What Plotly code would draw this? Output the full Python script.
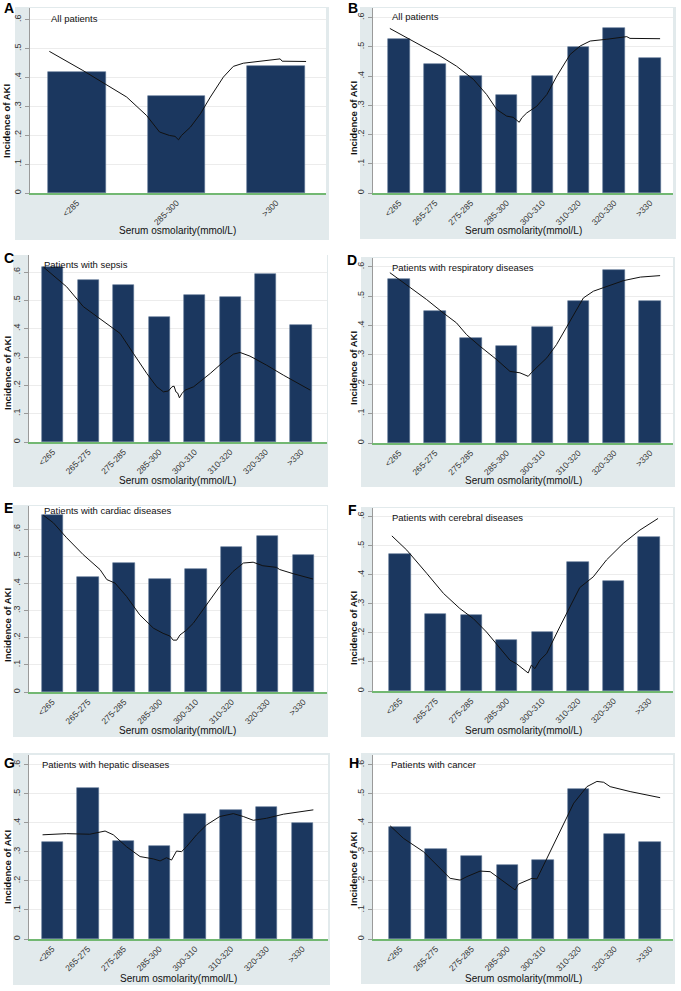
import plotly.graph_objects as go

# ---------------- DATA ----------------
cats3 = ["<285", "285-300", ">300"]
cats8 = ["<265", "265-275", "275-285", "285-300", "300-310", "310-320", "320-330", ">330"]
ytick_vals = [0, 0.1, 0.2, 0.3, 0.4, 0.5, 0.6]
ytick_text = ["0", ".1", ".2", ".3", ".4", ".5", ".6"]

titles = ["All patients", "All patients", "Patients with sepsis", "Patients with respiratory diseases",
          "Patients with cardiac diseases", "Patients with cerebral diseases",
          "Patients with hepatic diseases", "Patients with cancer"]
letters = ["A", "B", "C", "D", "E", "F", "G", "H"]

bars_a = [0.417, 0.335, 0.440]
bars_b = [0.526, 0.440, 0.400, 0.334, 0.402, 0.499, 0.566, 0.463]
bars_c = [0.617, 0.572, 0.555, 0.440, 0.518, 0.512, 0.592, 0.412]
bars_d = [0.560, 0.450, 0.358, 0.332, 0.395, 0.483, 0.588, 0.483]
bars_e = [0.651, 0.423, 0.474, 0.415, 0.454, 0.533, 0.573, 0.506]
bars_f = [0.470, 0.266, 0.263, 0.175, 0.202, 0.443, 0.378, 0.529]
bars_g = [0.333, 0.522, 0.337, 0.321, 0.431, 0.445, 0.456, 0.401]
bars_h = [0.386, 0.311, 0.285, 0.255, 0.272, 0.516, 0.363, 0.333]

# lowess curves: position along the category axis, incidence
curve_a_pos = [-0.276, 0.06, 0.5, 0.70, 0.83, 0.93, 0.985, 1.02, 1.05, 1.14, 1.24, 1.34, 1.47, 1.57, 1.67, 1.91, 2.04, 2.06, 2.30]
curve_a_val = [0.490, 0.424, 0.332, 0.268, 0.211, 0.199, 0.196, 0.184, 0.199, 0.228, 0.274, 0.332, 0.401, 0.438, 0.449, 0.459, 0.464, 0.456, 0.455]

curve_b_pos = [-0.26, 0.30, 1.14, 1.60, 2.07, 2.44, 2.72, 3.00, 3.18, 3.28, 3.35, 3.42, 3.56, 3.84, 4.12, 4.40, 4.77, 5.05, 5.33, 5.79, 6.35, 6.44, 7.28]
curve_b_val = [0.563, 0.526, 0.469, 0.434, 0.389, 0.337, 0.286, 0.263, 0.259, 0.249, 0.242, 0.257, 0.274, 0.297, 0.337, 0.400, 0.474, 0.503, 0.520, 0.526, 0.535, 0.529, 0.528]

curve_c_pos = [-0.26, 0.39, 0.86, 1.33, 1.90, 2.27, 2.65, 2.93, 3.12, 3.26, 3.36, 3.42, 3.47, 3.52, 3.57, 3.64, 3.73, 3.97, 4.15, 4.44, 4.81, 5.09, 5.28, 5.56, 6.03, 6.50, 7.26]
curve_c_val = [0.617, 0.548, 0.478, 0.436, 0.383, 0.313, 0.242, 0.195, 0.177, 0.180, 0.195, 0.197, 0.177, 0.173, 0.156, 0.171, 0.183, 0.195, 0.212, 0.242, 0.283, 0.310, 0.316, 0.303, 0.271, 0.236, 0.183]

curve_d_pos = [-0.26, 0.20, 0.76, 1.23, 1.60, 1.88, 2.25, 2.72, 3.09, 3.37, 3.51, 3.60, 3.70, 3.93, 4.12, 4.39, 4.77, 5.14, 5.42, 5.79, 6.26, 6.73, 7.28]
curve_d_val = [0.580, 0.540, 0.489, 0.443, 0.409, 0.369, 0.330, 0.284, 0.244, 0.239, 0.230, 0.227, 0.241, 0.267, 0.290, 0.335, 0.415, 0.494, 0.517, 0.534, 0.553, 0.565, 0.570]

curve_e_pos = [-0.25, 0.03, 0.40, 0.86, 1.33, 1.52, 1.75, 2.07, 2.44, 2.82, 3.09, 3.28, 3.37, 3.47, 3.56, 3.74, 3.93, 4.30, 4.67, 5.04, 5.33, 5.60, 5.87, 6.25, 6.34, 6.71, 7.27]
curve_e_val = [0.651, 0.623, 0.568, 0.506, 0.451, 0.414, 0.401, 0.352, 0.284, 0.235, 0.216, 0.206, 0.191, 0.191, 0.210, 0.228, 0.253, 0.321, 0.389, 0.444, 0.475, 0.478, 0.465, 0.459, 0.451, 0.436, 0.416]

curve_f_pos = [-0.23, 0.19, 0.75, 1.22, 1.68, 2.06, 2.43, 2.81, 3.09, 3.27, 3.46, 3.60, 3.69, 3.79, 3.93, 4.12, 4.49, 4.86, 5.05, 5.43, 5.80, 6.27, 6.74, 7.25]
curve_f_val = [0.534, 0.485, 0.405, 0.336, 0.284, 0.249, 0.203, 0.146, 0.106, 0.094, 0.077, 0.062, 0.089, 0.077, 0.106, 0.129, 0.221, 0.313, 0.356, 0.393, 0.451, 0.508, 0.554, 0.594]

curve_g_pos = [-0.27, 0.40, 1.05, 1.34, 1.48, 1.71, 2.08, 2.46, 2.83, 3.02, 3.20, 3.34, 3.48, 3.62, 3.76, 4.04, 4.32, 4.69, 5.07, 5.35, 5.63, 6.00, 6.47, 7.31]
curve_g_val = [0.359, 0.363, 0.361, 0.368, 0.372, 0.359, 0.318, 0.284, 0.276, 0.269, 0.280, 0.272, 0.303, 0.301, 0.318, 0.359, 0.393, 0.422, 0.432, 0.422, 0.409, 0.416, 0.430, 0.445]

curve_h_pos = [-0.28, 0.09, 0.65, 1.12, 1.40, 1.68, 1.87, 2.24, 2.52, 2.71, 2.89, 3.08, 3.22, 3.31, 3.50, 3.69, 3.83, 4.11, 4.48, 4.86, 5.23, 5.51, 5.70, 5.88, 6.44, 7.28]
curve_h_val = [0.390, 0.347, 0.301, 0.244, 0.209, 0.203, 0.215, 0.234, 0.232, 0.215, 0.198, 0.180, 0.169, 0.189, 0.198, 0.209, 0.207, 0.278, 0.370, 0.468, 0.525, 0.543, 0.540, 0.525, 0.508, 0.487]

# ---------------- LAYOUT ----------------
W, H = 681, 991
FONT = "Arial, Liberation Sans, Helvetica, sans-serif"
BAR_COLOR = "#1b375f"
BG = "#e2eaec"

def px(x):
    return x / W

def py(y):
    return 1 - y / H

panels = [
    dict(cats=cats3, bars=bars_a, cx=curve_a_pos, cy=curve_a_val, gray=(15, 7, 329, 240), plot=(30, 8, 326, 193),
         xr=(-0.47, 2.5), ytop=0.64, lab=(2, 8), note=(49, 18), ytc=(7, 121), xt=230, bw=0.58),
    dict(cats=cats8, bars=bars_b, cx=curve_b_pos, cy=curve_b_val, gray=(360, 7, 676, 239), plot=(373, 8, 673, 193),
         xr=(-0.73, 7.64), ytop=0.633, lab=(346, 8), note=(390, 17), ytc=(353, 118), xt=230, bw=0.6),
    dict(cats=cats8, bars=bars_c, cx=curve_c_pos, cy=curve_c_val, gray=(13, 255, 328, 487), plot=(29, 255, 327, 442),
         xr=(-0.67, 7.73), ytop=0.66, lab=(2, 258), note=(42, 264), ytc=(7, 373), xt=480, bw=0.6),
    dict(cats=cats8, bars=bars_d, cx=curve_d_pos, cy=curve_d_val, gray=(361, 257, 675, 487), plot=(373, 258, 673, 443),
         xr=(-0.73, 7.64), ytop=0.63, lab=(345, 260), note=(390, 267), ytc=(353, 368), xt=480, bw=0.6),
    dict(cats=cats8, bars=bars_e, cx=curve_e_pos, cy=curve_e_val, gray=(13, 505, 328, 737), plot=(29, 506, 327, 692),
         xr=(-0.65, 7.66), ytop=0.685, lab=(2, 508), note=(42, 511), ytc=(7, 625), xt=730, bw=0.6),
    dict(cats=cats8, bars=bars_f, cx=curve_f_pos, cy=curve_f_val, gray=(361, 507, 675, 737), plot=(373, 508, 673, 691),
         xr=(-0.76, 7.67), ytop=0.63, lab=(346, 510), note=(390, 517), ytc=(353, 628), xt=730, bw=0.6),
    dict(cats=cats8, bars=bars_g, cx=curve_g_pos, cy=curve_g_val, gray=(13, 753, 330, 985), plot=(29, 755, 328, 939),
         xr=(-0.65, 7.72), ytop=0.634, lab=(2, 763), note=(40, 764), ytc=(7, 867), xt=978, bw=0.6),
    dict(cats=cats8, bars=bars_h, cx=curve_h_pos, cy=curve_h_val, gray=(361, 753, 675, 984), plot=(373, 755, 673, 939),
         xr=(-0.76, 7.64), ytop=0.634, lab=(347, 763), note=(389, 764), ytc=(353, 869), xt=978, bw=0.6),
]

fig = go.Figure()
shapes = []
annotations = []
layout_axes = {}

for i, p in enumerate(panels):
    k = "" if i == 0 else str(i + 1)
    xa, ya = "x" + k, "y" + k
    idx = list(range(len(p["cats"])))
    fig.add_trace(go.Bar(x=idx, y=p["bars"], xaxis=xa, yaxis=ya, width=p["bw"],
                         marker=dict(color=BAR_COLOR, line=dict(color="#5d7393", width=0.6)),
                         showlegend=False, hoverinfo="skip"))
    fig.add_trace(go.Scatter(x=p["cx"], y=p["cy"], xaxis=xa, yaxis=ya, mode="lines",
                             line=dict(color="#111111", width=1), showlegend=False, hoverinfo="skip"))

    gx0, gy0, gx1, gy1 = p["gray"]
    x0, y0, x1, y1 = p["plot"]
    shapes.append(dict(type="rect", xref="paper", yref="paper", x0=px(gx0), x1=px(gx1), y0=py(gy1), y1=py(gy0),
                       fillcolor=BG, line=dict(width=0), layer="below"))
    shapes.append(dict(type="rect", xref="paper", yref="paper", x0=px(x0), x1=px(x1), y0=py(y1), y1=py(y0),
                       fillcolor="white", line=dict(width=0), layer="below"))

    layout_axes["xaxis" + k] = dict(
        domain=[px(x0), px(x1)], anchor=ya, range=list(p["xr"]),
        tickmode="array", tickvals=idx, ticktext=p["cats"], tickangle=-45,
        tickfont=dict(family=FONT, size=8.5, color="#333"),
        showgrid=False, zeroline=False, showline=True, linecolor="#72b872", linewidth=1.5,
        ticks="", ticklabelstandoff=0, fixedrange=True)
    layout_axes["yaxis" + k] = dict(
        domain=[py(y1), py(y0)], anchor=xa, range=[0, p["ytop"]],
        tickmode="array", tickvals=ytick_vals, ticktext=ytick_text, tickangle=-90,
        tickfont=dict(family=FONT, size=9, color="#333"),
        showgrid=True, gridcolor="#ececec", gridwidth=1, zeroline=False,
        showline=True, linecolor="#9a9a9a", linewidth=1, ticks="outside", ticklen=4, tickcolor="#9a9a9a",
        fixedrange=True)

    annotations.append(dict(xref="paper", yref="paper", x=px(p["lab"][0]), y=py(p["lab"][1]),
                            text="<b>" + letters[i] + "</b>", showarrow=False, xanchor="left", yanchor="middle",
                            font=dict(family=FONT, size=14, color="#000")))
    annotations.append(dict(xref="paper", yref="paper", x=px(p["note"][0]), y=py(p["note"][1]),
                            text=titles[i], showarrow=False, xanchor="left", yanchor="middle",
                            font=dict(family=FONT, size=9.5, color="#111")))
    annotations.append(dict(xref="paper", yref="paper", x=px(p["ytc"][0]), y=py(p["ytc"][1]),
                            text="<b>Incidence of AKI</b>", showarrow=False, textangle=-90,
                            xanchor="center", yanchor="middle",
                            font=dict(family=FONT, size=9.5, color="#111")))
    annotations.append(dict(xref="paper", yref="paper", x=px((x0 + x1) / 2), y=py(p["xt"]),
                            text="Serum osmolarity(mmol/L)", showarrow=False,
                            xanchor="center", yanchor="middle",
                            font=dict(family=FONT, size=10, color="#111")))

fig.update_layout(
    width=W, height=H, margin=dict(l=0, r=0, t=0, b=0),
    paper_bgcolor="white", plot_bgcolor="rgba(0,0,0,0)",
    shapes=shapes, annotations=annotations, bargap=0, **layout_axes)

# remove the browser's default 8px page margin so the figure sits at the window origin
fig.write_html("out.html", config={"displayModeBar": False},
               post_script="document.body.style.margin='0';")
